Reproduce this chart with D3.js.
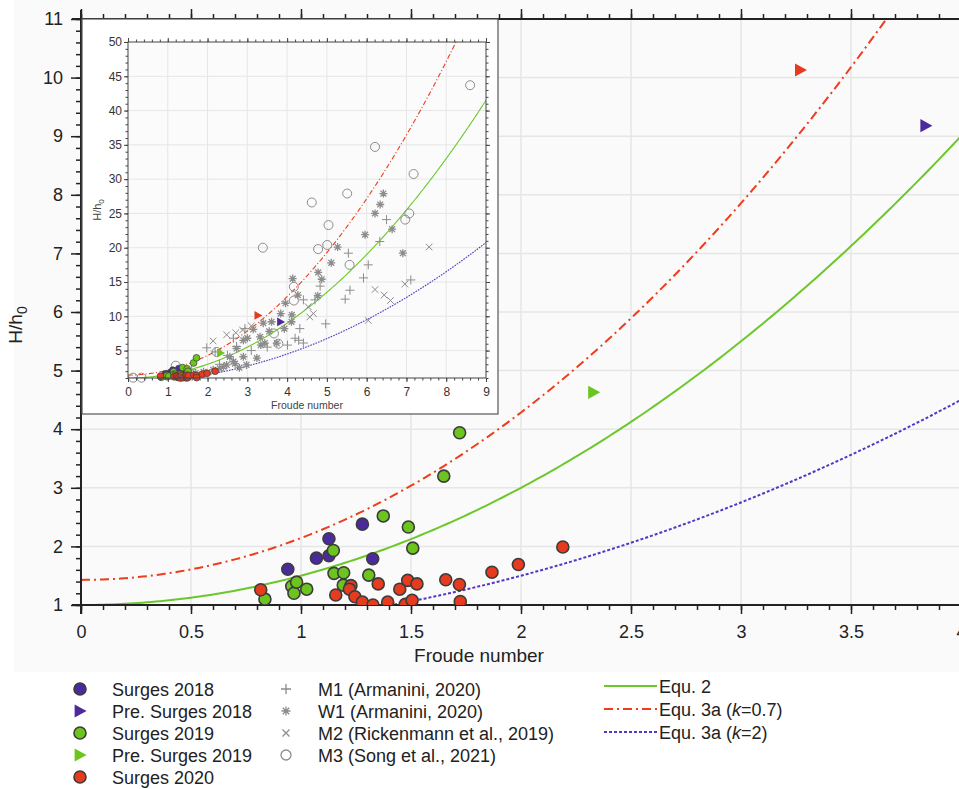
<!DOCTYPE html>
<html lang="en">
  <head>
    <meta charset="utf-8" />
    <script src="https://d3js.org/d3.v7.min.js"></script>
    <style>
      body {
        margin: 0;
        background-color: #ffffff;
      }
      svg text {
        font-family: "Liberation Sans", Arial, sans-serif;
        fill: #222;
      }
      .axis path {
        display: none;
      }
      .axis line {
        stroke: #222;
        stroke-width: 1.5px;
      }
      .inset .axis line {
        stroke: #444;
        stroke-width: 1px;
      }
    </style>
  </head>
  <body>
    <div id="chart"></div>

    <script>
      const width = 959;
      const height = 789;

      // field data (Froude number, H/h0)
      const surges2018 = [
        [0.94, 1.61], [1.07, 1.8], [1.127, 2.13], [1.127, 1.84],
        [1.279, 2.38], [1.326, 1.79]
      ];
      const surges2019 = [
        [0.836, 1.1], [0.958, 1.32], [0.968, 1.2], [0.98, 1.39],
        [1.026, 1.27], [1.147, 1.93], [1.15, 1.54], [1.194, 1.55],
        [1.192, 1.34], [1.308, 1.51], [1.374, 2.52], [1.488, 2.33],
        [1.508, 1.97], [1.649, 3.2], [1.721, 3.94]
      ];
      const surges2020 = [
        [0.817, 1.26], [1.158, 1.17], [1.227, 1.33], [1.22, 1.27],
        [1.245, 1.14], [1.279, 1.05], [1.327, 1.0], [1.351, 1.36],
        [1.394, 1.05], [1.449, 1.27], [1.474, 1.01], [1.485, 1.42],
        [1.505, 1.08], [1.527, 1.36], [1.658, 1.43], [1.72, 1.35],
        [1.724, 1.06], [1.868, 1.56], [1.988, 1.69], [2.19, 1.99]
      ];
      const preSurges2018 = [[3.84, 9.18]];
      const preSurges2019 = [[2.33, 4.63]];
      const preSurges2020 = [[3.27, 10.13]];

      // laboratory data shown in the inset
      const m1 = [
        [1.98, 5.4], [2.19, 4.8], [2.73, 5.6], [2.65, 6.8], [2.94, 8.2],
        [4.01, 5.8], [4.2, 6.8], [4.29, 6.5], [4.41, 6.1], [4.32, 8.2],
        [4.97, 8.9], [4.41, 12.4], [4.7, 12.4], [4.83, 14.4], [5.46, 12.5],
        [5.58, 13.8], [5.92, 15.6], [6.04, 17.5], [5.54, 19.2], [6.33, 20.9],
        [6.5, 24.1], [7.11, 15.3], [2.3, 3.0], [1.6, 2.2], [2.5, 4.3],
        [3.1, 5.0], [3.5, 5.5]
      ];
      const w1 = [
        [6.42, 27.9], [6.34, 26.3], [6.21, 25.0], [6.64, 22.7], [5.96, 21.9],
        [5.27, 20.1], [6.91, 19.2], [5.11, 17.8], [4.78, 16.4], [4.14, 15.5],
        [4.87, 15.4], [4.77, 13.0], [4.27, 13.1], [3.96, 11.9], [4.12, 10.2],
        [3.84, 10.4], [4.11, 9.2], [3.61, 9.2], [3.4, 9.0], [3.15, 8.1],
        [3.32, 7.0], [3.93, 8.2], [2.9, 6.5], [3.44, 6.1], [3.74, 6.1],
        [2.73, 5.3], [2.9, 4.1], [2.65, 3.4], [3.24, 3.9], [2.98, 2.9],
        [2.48, 2.9], [2.31, 2.4], [2.14, 2.2], [3.34, 5.8], [2.56, 4.1],
        [2.69, 3.1], [2.4, 2.65], [3.55, 7.8], [3.0, 6.8], [1.9, 1.9],
        [1.7, 1.7], [2.8, 2.5]
      ];
      const m2 = [
        [2.48, 7.3], [2.71, 7.6], [2.88, 8.0], [4.53, 11.4], [4.57, 9.9],
        [4.66, 10.4], [6.04, 9.4], [6.21, 13.9], [6.44, 13.1], [6.6, 12.3],
        [6.96, 14.7], [7.57, 20.1], [2.14, 6.4], [3.1, 8.6]
      ];
      const m3 = [
        [0.13, 1.05], [0.34, 1.05], [1.2, 2.8], [1.25, 1.6], [2.23, 4.8],
        [3.39, 20.0], [3.67, 7.5], [3.78, 6.0], [4.17, 14.3], [4.17, 12.3],
        [4.62, 26.6], [4.78, 19.8], [5.01, 20.4], [5.04, 23.3], [5.51, 27.9],
        [5.57, 17.5], [6.21, 34.7], [6.97, 24.1], [7.07, 25.0], [7.18, 30.75],
        [8.6, 43.7]
      ];

      // equation curves: H/h0 = (1 + Fr^2 / 2) / k
      const equK = [1, 0.7, 2];
      const equNames = ["Equ. 2", "Equ. 3a (k=0.7)", "Equ. 3a (k=2)"];
      const equColors = ["#6cc82a", "#ee3d1b", "#5535c8"];
      const equDash = [null, "9,4,2,4", "3,2"];

      const mainXTicks = [0, 0.5, 1, 1.5, 2, 2.5, 3, 3.5, 4];
      const mainYTicks = [1, 2, 3, 4, 5, 6, 7, 8, 9, 10, 11];
      const insetXTicks = [0, 1, 2, 3, 4, 5, 6, 7, 8, 9];
      const insetYTicks = [5, 10, 15, 20, 25, 30, 35, 40, 45, 50];

      const purple = "#4b2a9c";
      const green = "#6cc41e";
      const red = "#e63b1e";
      const grey = "#8c8c8c";

      const svg = d3
        .select("#chart")
        .append("svg")
        .attr("width", width)
        .attr("height", height);

      const x = d3.scaleLinear().domain([0, 4]).range([81, 961]);
      const y = d3.scaleLinear().domain([1, 11]).range([605, 19]);

      // plot background
      svg
        .append("rect")
        .attr("x", 14)
        .attr("y", 0)
        .attr("width", width - 14)
        .attr("height", 672)
        .attr("fill", "#fafafa");

      // grid
      svg
        .append("g")
        .selectAll("line")
        .data(mainXTicks.slice(1))
        .join("line")
        .attr("x1", (d) => x(d))
        .attr("x2", (d) => x(d))
        .attr("y1", y(11))
        .attr("y2", y(1))
        .attr("stroke", "#e6e6e6")
        .attr("stroke-width", 1.5);
      svg
        .append("g")
        .selectAll("line")
        .data(mainYTicks.slice(1, -1))
        .join("line")
        .attr("x1", x(0))
        .attr("x2", width)
        .attr("y1", (d) => y(d))
        .attr("y2", (d) => y(d))
        .attr("stroke", "#e6e6e6")
        .attr("stroke-width", 1.5);

      svg
        .append("clipPath")
        .attr("id", "clipMain")
        .append("rect")
        .attr("x", x(0))
        .attr("y", y(11))
        .attr("width", width - x(0))
        .attr("height", y(1) - y(11));

      const frs = d3.range(0, 9.001, 0.02);

      function drawCurves(g, xs, ys, xmax, lw) {
        equK.forEach((k, i) => {
          const pts = frs.filter((f) => f <= xmax).map((f) => [f, (1 + (f * f) / 2) / k]);
          g.append("path")
            .datum(pts)
            .attr("fill", "none")
            .attr("stroke", equColors[i])
            .attr("stroke-width", lw)
            .attr("stroke-dasharray", equDash[i] ? equDash[i].split(",").map((v) => v * (lw / 2)).join(",") : null)
            .attr(
              "d",
              d3
                .line()
                .x((d) => xs(d[0]))
                .y((d) => ys(d[1]))
            );
        });
      }

      const curvesMain = svg.append("g").attr("clip-path", "url(#clipMain)");
      drawCurves(curvesMain, x, y, 4.2, 2);

      // axes of the main panel
      svg
        .append("g")
        .attr("class", "axis")
        .attr("transform", `translate(0,${y(11)})`)
        .call(d3.axisTop(x).tickValues(d3.range(0, 4.01, 0.1)).tickSize(5).tickFormat(""));
      svg
        .append("g")
        .attr("class", "axis")
        .attr("transform", `translate(0,${y(11)})`)
        .call(d3.axisTop(x).tickValues(mainXTicks).tickSize(10).tickFormat(""));
      svg
        .append("g")
        .attr("class", "axis")
        .attr("transform", `translate(0,${y(1)})`)
        .call(d3.axisBottom(x).tickValues(d3.range(0, 4.01, 0.1)).tickSize(5).tickFormat(""));
      svg
        .append("g")
        .attr("class", "axis")
        .attr("transform", `translate(0,${y(1)})`)
        .call(d3.axisBottom(x).tickValues(mainXTicks).tickSize(9).tickPadding(11).tickFormat(d3.format("")))
        .selectAll("text")
        .style("font-size", "18px");
      svg
        .append("g")
        .attr("class", "axis")
        .attr("transform", `translate(${x(0)},0)`)
        .call(d3.axisLeft(y).tickValues(d3.range(1, 11.01, 0.2)).tickSize(5).tickFormat(""));
      svg
        .append("g")
        .attr("class", "axis")
        .attr("transform", `translate(${x(0)},0)`)
        .call(d3.axisLeft(y).tickValues(mainYTicks).tickSize(10).tickPadding(8).tickFormat(d3.format("")))
        .selectAll("text")
        .style("font-size", "18px");

      svg
        .append("line")
        .attr("x1", x(0) - 9)
        .attr("x2", width)
        .attr("y1", y(11))
        .attr("y2", y(11))
        .attr("stroke", "#222")
        .attr("stroke-width", 2);
      svg
        .append("line")
        .attr("x1", x(0) - 9)
        .attr("x2", width)
        .attr("y1", y(1))
        .attr("y2", y(1))
        .attr("stroke", "#222")
        .attr("stroke-width", 2);
      svg
        .append("line")
        .attr("x1", x(0))
        .attr("x2", x(0))
        .attr("y1", y(11) - 9)
        .attr("y2", y(1) + 9)
        .attr("stroke", "#222")
        .attr("stroke-width", 2);

      // axis titles
      svg
        .append("text")
        .attr("x", 479)
        .attr("y", 662)
        .attr("text-anchor", "middle")
        .style("font-size", "19px")
        .text("Froude number");
      const yt = svg
        .append("text")
        .attr("transform", "translate(22,325) rotate(-90)")
        .attr("text-anchor", "middle")
        .style("font-size", "19px");
      yt.append("tspan").text("H/h");
      yt.append("tspan").attr("dy", 5).style("font-size", "14px").text("0");

      // markers
      const tri = (s) => `M${-s * 0.45},${-s * 0.55}L${s * 0.55},0L${-s * 0.45},${s * 0.55}Z`;

      function drawField(g, xs, ys, r, sw, triSize) {
        const circ = [
          [surges2018, purple],
          [surges2019, green],
          [surges2020, red]
        ];
        circ.forEach(([data, col]) => {
          g.append("g")
            .selectAll("circle")
            .data(data)
            .join("circle")
            .attr("cx", (d) => xs(d[0]))
            .attr("cy", (d) => ys(d[1]))
            .attr("r", r)
            .attr("fill", col)
            .attr("stroke", "#3c3c3c")
            .attr("stroke-width", sw);
        });
        [
          [preSurges2018, purple],
          [preSurges2019, green],
          [preSurges2020, red]
        ].forEach(([data, col]) => {
          g.append("g")
            .selectAll("path")
            .data(data)
            .join("path")
            .attr("transform", (d) => `translate(${xs(d[0])},${ys(d[1])})`)
            .attr("d", tri(triSize))
            .attr("fill", col);
        });
      }

      // inset panel
      const inset = svg.append("g").attr("class", "inset");
      inset
        .append("rect")
        .attr("x", 82)
        .attr("y", 19)
        .attr("width", 416)
        .attr("height", 395)
        .attr("fill", "#ffffff")
        .attr("stroke", "#555")
        .attr("stroke-width", 1.2);

      const xi = d3.scaleLinear().domain([0, 9]).range([128, 486]);
      const yi = d3.scaleLinear().domain([1, 50]).range([378, 42]);

      inset
        .append("rect")
        .attr("x", xi(0))
        .attr("y", yi(50))
        .attr("width", xi(9) - xi(0))
        .attr("height", yi(1) - yi(50))
        .attr("fill", "#fbfbfb");

      inset
        .append("g")
        .selectAll("line")
        .data(insetXTicks.slice(1, -1))
        .join("line")
        .attr("x1", (d) => xi(d))
        .attr("x2", (d) => xi(d))
        .attr("y1", yi(50))
        .attr("y2", yi(1))
        .attr("stroke", "#e6e6e6");
      inset
        .append("g")
        .selectAll("line")
        .data(insetYTicks.slice(0, -1))
        .join("line")
        .attr("x1", xi(0))
        .attr("x2", xi(9))
        .attr("y1", (d) => yi(d))
        .attr("y2", (d) => yi(d))
        .attr("stroke", "#e6e6e6");

      inset
        .append("clipPath")
        .attr("id", "clipInset")
        .append("rect")
        .attr("x", xi(0))
        .attr("y", yi(50))
        .attr("width", xi(9) - xi(0))
        .attr("height", yi(1) - yi(50));

      const curvesInset = inset.append("g").attr("clip-path", "url(#clipInset)");
      drawCurves(curvesInset, xi, yi, 9, 1.1);

      // laboratory markers
      const lab = inset.append("g").attr("stroke", grey).attr("fill", "none").attr("stroke-width", 1);
      const cs = 4.5;
      lab
        .append("g")
        .selectAll("path")
        .data(m1)
        .join("path")
        .attr("transform", (d) => `translate(${xi(d[0])},${yi(d[1])})`)
        .attr("d", `M${-cs},0H${cs}M0,${-cs}V${cs}`);
      lab
        .append("g")
        .selectAll("path")
        .data(m2)
        .join("path")
        .attr("transform", (d) => `translate(${xi(d[0])},${yi(d[1])})`)
        .attr("d", `M-3.3,-3.3L3.3,3.3M-3.3,3.3L3.3,-3.3`);
      lab
        .append("g")
        .selectAll("path")
        .data(w1)
        .join("path")
        .attr("transform", (d) => `translate(${xi(d[0])},${yi(d[1])})`)
        .attr("stroke-width", 1.3)
        .attr("d", `M-4,0H4M0,-4V4M-2.9,-2.9L2.9,2.9M-2.9,2.9L2.9,-2.9`);
      lab
        .append("g")
        .selectAll("circle")
        .data(m3)
        .join("circle")
        .attr("cx", (d) => xi(d[0]))
        .attr("cy", (d) => yi(d[1]))
        .attr("r", 4.5);

      drawField(inset.append("g"), xi, yi, 3.4, 0.7, 8);

      // inset axes (ticks outside on all four sides)
      const iax = [
        [d3.axisTop(xi).tickValues(d3.range(0, 9.01, 0.2)).tickSize(2.5), `translate(0,${yi(50)})`],
        [d3.axisTop(xi).tickValues(insetXTicks).tickSize(4), `translate(0,${yi(50)})`],
        [d3.axisBottom(xi).tickValues(d3.range(0, 9.01, 0.2)).tickSize(2.5), `translate(0,${yi(1)})`],
        [d3.axisRight(yi).tickValues(d3.range(1, 50.01, 1)).tickSize(2.5), `translate(${xi(9)},0)`],
        [d3.axisRight(yi).tickValues(insetYTicks).tickSize(4), `translate(${xi(9)},0)`],
        [d3.axisLeft(yi).tickValues(d3.range(1, 50.01, 1)).tickSize(2.5), `translate(${xi(0)},0)`]
      ];
      iax.forEach(([ax, tr]) => {
        inset.append("g").attr("class", "axis").attr("transform", tr).call(ax.tickFormat(""));
      });
      inset
        .append("g")
        .attr("class", "axis")
        .attr("transform", `translate(0,${yi(1)})`)
        .call(d3.axisBottom(xi).tickValues(insetXTicks).tickSize(4).tickPadding(5))
        .selectAll("text")
        .style("font-size", "12px")
        .style("fill", "#333");
      inset
        .append("g")
        .attr("class", "axis")
        .attr("transform", `translate(${xi(0)},0)`)
        .call(d3.axisLeft(yi).tickValues(insetYTicks).tickSize(4).tickPadding(2))
        .selectAll("text")
        .style("font-size", "12px")
        .style("fill", "#333");
      inset
        .append("rect")
        .attr("x", xi(0))
        .attr("y", yi(50))
        .attr("width", xi(9) - xi(0))
        .attr("height", yi(1) - yi(50))
        .attr("fill", "none")
        .attr("stroke", "#444")
        .attr("stroke-width", 1);

      inset
        .append("text")
        .attr("x", (xi(0) + xi(9)) / 2)
        .attr("y", 409)
        .attr("text-anchor", "middle")
        .style("font-size", "10.5px")
        .style("fill", "#444")
        .text("Froude number");
      const iyt = inset
        .append("text")
        .attr("transform", `translate(101,${(yi(1) + yi(50)) / 2}) rotate(-90)`)
        .attr("text-anchor", "middle")
        .style("font-size", "11px")
        .style("fill", "#444");
      iyt.append("tspan").text("H/h");
      iyt.append("tspan").attr("dy", 3).style("font-size", "8px").text("0");

      // field points on the main panel (drawn above the inset box)
      drawField(svg.append("g").attr("clip-path", "url(#clipMain)"), x, y, 6, 1.6, 12);

      // legend
      const legend = svg.append("g");
      const leg1 = [
        ["Surges 2018", "circle", purple],
        ["Pre. Surges 2018", "tri", purple],
        ["Surges 2019", "circle", green],
        ["Pre. Surges 2019", "tri", green],
        ["Surges 2020", "circle", red]
      ];
      leg1.forEach(([name, kind, col], i) => {
        const cy = 689 + i * 22;
        if (kind === "circle") {
          legend
            .append("circle")
            .attr("cx", 80)
            .attr("cy", cy)
            .attr("r", 6)
            .attr("fill", col)
            .attr("stroke", "#3c3c3c")
            .attr("stroke-width", 1.6);
        } else {
          legend
            .append("path")
            .attr("transform", `translate(80,${cy})`)
            .attr("d", tri(12))
            .attr("fill", col);
        }
        legend
          .append("text")
          .attr("x", 112)
          .attr("y", cy + 6.5)
          .style("font-size", "18px")
          .text(name);
      });

      const leg2 = [
        ["M1 (Armanini, 2020)", `M-5,0H5M0,-5V5`],
        ["W1 (Armanini, 2020)", `M-4.5,0H4.5M0,-4.5V4.5M-3.2,-3.2L3.2,3.2M-3.2,3.2L3.2,-3.2`],
        ["M2 (Rickenmann et al., 2019)", `M-3.5,-3.5L3.5,3.5M-3.5,3.5L3.5,-3.5`],
        ["M3 (Song et al., 2021)", null]
      ];
      leg2.forEach(([name, d], i) => {
        const cy = 689 + i * 22;
        if (d) {
          legend
            .append("path")
            .attr("transform", `translate(286,${cy})`)
            .attr("d", d)
            .attr("fill", "none")
            .attr("stroke", grey)
            .attr("stroke-width", 1.3);
        } else {
          legend
            .append("circle")
            .attr("cx", 286)
            .attr("cy", cy)
            .attr("r", 5)
            .attr("fill", "none")
            .attr("stroke", grey)
            .attr("stroke-width", 1.3);
        }
        legend
          .append("text")
          .attr("x", 318)
          .attr("y", cy + 6.5)
          .style("font-size", "18px")
          .text(name);
      });

      equNames.forEach((name, i) => {
        const cy = 686 + i * 23;
        legend
          .append("line")
          .attr("x1", 604)
          .attr("x2", 657)
          .attr("y1", cy)
          .attr("y2", cy)
          .attr("stroke", equColors[i])
          .attr("stroke-width", 2)
          .attr("stroke-dasharray", equDash[i]);
        const t = legend
          .append("text")
          .attr("x", 659)
          .attr("y", cy + 6.5)
          .style("font-size", "18px");
        const m = name.match(/^(.*\()k(=.*)$/);
        if (m) {
          t.append("tspan").text(m[1]);
          t.append("tspan").style("font-style", "italic").text("k");
          t.append("tspan").text(m[2]);
        } else {
          t.text(name);
        }
      });
    </script>
  </body>
</html>
